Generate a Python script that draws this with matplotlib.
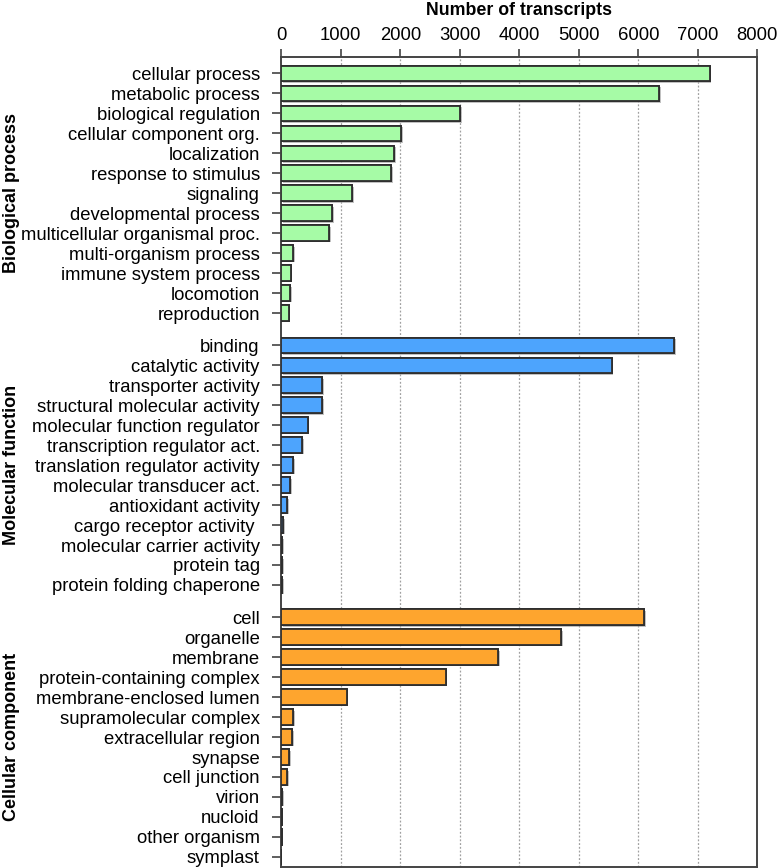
import matplotlib
matplotlib.use('Agg')
import matplotlib.pyplot as plt
import matplotlib.patheffects as pe
import numpy as np

plt.rcParams['font.family'] = ['Liberation Sans', 'DejaVu Sans']

bp_terms = ['cellular process', 'metabolic process', 'biological regulation',
            'cellular component org.', 'localization', 'response to stimulus',
            'signaling', 'developmental process', 'multicellular organismal proc.',
            'multi-organism process', 'immune system process', 'locomotion',
            'reproduction']
bp_counts = [7200, 6350, 3010, 2010, 1900, 1850, 1190, 850, 800, 200, 155, 150, 125]

mf_terms = ['binding', 'catalytic activity', 'transporter activity',
            'structural molecular activity', 'molecular function regulator',
            'transcription regulator act.', 'translation regulator activity',
            'molecular transducer act.', 'antioxidant activity',
            'cargo receptor activity ', 'molecular carrier activity',
            'protein tag', 'protein folding chaperone']
mf_counts = [6600, 5550, 690, 685, 445, 350, 200, 150, 95, 35, 12, 10, 10]

cc_terms = ['cell', 'organelle', 'membrane', 'protein-containing complex',
            'membrane-enclosed lumen', 'supramolecular complex',
            'extracellular region', 'synapse', 'cell junction', 'virion',
            'nucloid', 'other organism', 'symplast']
cc_counts = [6100, 4700, 3650, 2760, 1100, 200, 185, 130, 100, 10, 8, 5, 3]

groups = ['Biological process', 'Molecular function', 'Cellular component']
colors = ['#a6fba6', '#4da4fd', '#fea52e']

fig = plt.figure(figsize=(7.77, 8.68), dpi=100)
ax = fig.add_axes([281.3 / 777, 1 - 866.7 / 868, (757.3 - 281.3) / 777, (866.7 - 57.5) / 868])
trans = matplotlib.transforms.blended_transform_factory(fig.transFigure, ax.transData)

gap = 1.61
start = 0.0
yticks, ylabels = [], []
for gi, (terms, counts) in enumerate([(bp_terms, bp_counts), (mf_terms, mf_counts), (cc_terms, cc_counts)]):
    y = start + np.arange(len(terms))
    ax.barh(y, counts, height=0.77, color=colors[gi], edgecolor='#2e2e2e', linewidth=1.3,
            zorder=3, path_effects=[pe.withSimplePatchShadow(offset=(1.2, -1.2), shadow_rgbFace='#999999', alpha=0.6), pe.Normal()])
    yticks.extend(y)
    ylabels.extend(terms)
    fig.text(12 / 777, (y[0] + y[-1]) / 2, groups[gi], rotation=90, ha='center', va='center',
             fontsize=13, fontweight='bold', transform=trans)
    start = y[-1] + gap

ax.set_ylim(start - gap + 0.49, -0.79)
ax.set_xlim(0, 8000)
ax.set_yticks(yticks)
ax.set_yticklabels(ylabels, fontsize=13.3)
ax.set_xticks(np.arange(0, 8001, 1000))
ax.tick_params(axis='x', labelsize=13.3, top=True, labeltop=True, bottom=False, labelbottom=False,
               length=6, width=1.1, color='#333333', pad=4)
ax.tick_params(axis='y', length=6.5, width=1.1, color='#333333', pad=9)
ax.set_xlabel('Number of transcripts', fontsize=12.8, fontweight='bold', labelpad=8)
ax.xaxis.set_label_position('top')

for x in range(1000, 8000, 1000):
    ax.axvline(x, color='#a0a0a0', linestyle=(0, (1.5, 1.5)), linewidth=0.9, zorder=1)

for s in ax.spines.values():
    s.set_color('#444444')
    s.set_linewidth(1.4)

fig.savefig('out.png', dpi=100)
